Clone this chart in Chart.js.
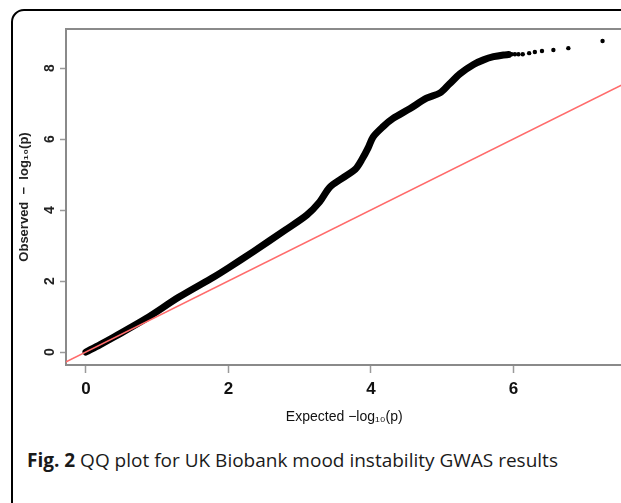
<!DOCTYPE html>
<html>
<head>
<meta charset="utf-8">
<script src="https://cdn.jsdelivr.net/npm/chart.js@4"></script>
<style>
  html, body { margin: 0; padding: 0; width: 621px; height: 503px; overflow: hidden; background: #fff; }
  #frame {
    position: absolute; left: 11px; top: 9px; width: 700px; height: 600px;
    border: 2.5px solid #000; border-radius: 13px; box-sizing: border-box;
  }
  #wrap { position: absolute; left: 0; top: 0; width: 640px; height: 440px; }
  #caption {
    position: absolute; left: 27px; top: 447px; white-space: nowrap;
    font-family: 'Open Sans', 'Noto Sans', sans-serif; font-size: 19px; color: #1a1a1a;
  }
  #caption b { font-weight: 700; }
</style>
</head>
<body>
<div id="frame"></div>
<div id="wrap"><canvas id="qq"></canvas></div>
<div id="caption"><b>Fig. 2</b> QQ plot for UK Biobank mood instability GWAS results</div>
<script>
// dense part of the QQ curve (expected vs observed -log10 p)
const curveX = [0, 0.2, 0.4, 0.85, 1.3, 1.8, 2.0, 2.35, 2.8, 3.1, 3.28, 3.42, 3.6, 3.78, 3.88, 3.96, 4.03, 4.17, 4.31, 4.55, 4.78, 4.97, 5.1, 5.25, 5.44, 5.58, 5.72, 5.86, 5.93];
const curveY = [0, 0.21, 0.43, 0.95, 1.54, 2.12, 2.37, 2.83, 3.44, 3.86, 4.23, 4.64, 4.9, 5.15, 5.45, 5.75, 6.06, 6.35, 6.58, 6.86, 7.15, 7.3, 7.55, 7.84, 8.1, 8.23, 8.32, 8.37, 8.38];
// isolated top hits
const tailX = [5.975, 6.02, 6.07, 6.13, 6.22, 6.30, 6.40, 6.56, 6.77, 7.25];
const tailY = [8.39, 8.39, 8.39, 8.39, 8.42, 8.45, 8.48, 8.51, 8.56, 8.76];
// y = x reference line
const refX = [-1, 9];
const refY = [-1, 9];
const xTicks = [0, 2, 4, 6];
const yTicks = [0, 2, 4, 6, 8];

const toPoints = (xs, ys) => xs.map((x, i) => ({ x: x, y: ys[i] }));

// grey box around the plot region, like R's box()
const boxPlugin = {
    id: 'box',
    beforeDatasetsDraw(chart) {
        const { ctx, chartArea } = chart;
        ctx.save();
        ctx.strokeStyle = '#8a8a8a';
        ctx.lineWidth = 2;
        ctx.strokeRect(chartArea.left, chartArea.top, chartArea.right - chartArea.left, chartArea.bottom - chartArea.top);
        ctx.restore();
    }
};

const plain = "'Liberation Sans', Arial, sans-serif";

new Chart(document.getElementById('qq'), {
    type: 'scatter',
    data: {
        datasets: [
            {
                data: toPoints(refX, refY),
                showLine: true,
                borderColor: '#ff6b6b',
                borderWidth: 1.6,
                pointRadius: 0
            },
            {
                data: toPoints(curveX, curveY),
                showLine: true,
                borderColor: '#000',
                borderWidth: 7,
                borderCapStyle: 'round',
                borderJoinStyle: 'round',
                tension: 0.3,
                pointRadius: 0
            },
            {
                data: toPoints(tailX, tailY),
                backgroundColor: '#000',
                borderColor: '#000',
                pointRadius: 2.2,
                borderWidth: 0
            }
        ]
    },
    options: {
        responsive: true,
        maintainAspectRatio: false,
        animation: false,
        events: [],
        layout: { padding: { top: 29, right: 17.5, left: 0, bottom: 0 } },
        plugins: { legend: { display: false }, tooltip: { enabled: false } },
        scales: {
            x: {
                type: 'linear',
                min: -0.28,
                max: 7.53,
                afterBuildTicks: s => { s.ticks = xTicks.map(v => ({ value: v })); },
                afterFit: s => { s.height = 75; },
                border: { display: false },
                grid: { drawOnChartArea: false, tickLength: 8, tickColor: '#9a9a9a', tickWidth: 1.5 },
                ticks: {
                    padding: 6,
                    color: '#111',
                    font: { family: plain, size: 17, weight: 'bold' },
                    maxRotation: 0
                },
                title: {
                    display: true,
                    text: 'Expected −log₁₀(p)',
                    color: '#111',
                    font: { family: plain, size: 14 },
                    padding: { top: 0, bottom: 14 }
                }
            },
            y: {
                type: 'linear',
                min: -0.366,
                max: 9.10,
                afterBuildTicks: s => { s.ticks = yTicks.map(v => ({ value: v })); },
                afterFit: s => { s.width = 66; },
                border: { display: false },
                grid: { drawOnChartArea: false, tickLength: 6, tickColor: '#9a9a9a', tickWidth: 1.5 },
                ticks: {
                    minRotation: 90,
                    maxRotation: 90,
                    crossAlign: 'center',
                    padding: 6,
                    color: '#222',
                    font: { family: plain, size: 14, weight: 'bold' }
                },
                title: {
                    display: true,
                    text: 'Observed  −  log₁₀(p)',
                    color: '#222',
                    font: { family: plain, size: 13, weight: 'bold' },
                    padding: { top: 17, bottom: 0 }
                }
            }
        }
    },
    plugins: [boxPlugin]
});
</script>
</body>
</html>
